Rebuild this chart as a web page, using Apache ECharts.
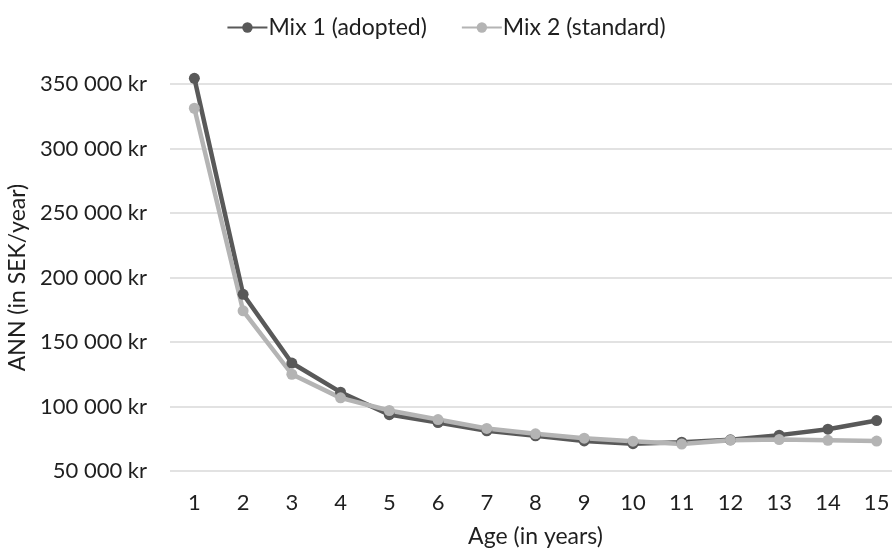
<!DOCTYPE html>
<html><head><meta charset="utf-8">
<script src="https://cdn.jsdelivr.net/npm/echarts@6/dist/echarts.min.js"></script>
<style>html,body{margin:0;padding:0;background:#fff}#c{width:892px;height:549px}</style>
</head><body><div id="c"></div>
<script>
const categories = ['1','2','3','4','5','6','7','8','9','10','11','12','13','14','15'];
const mix1 = [354400, 187000, 133700, 111100, 93700, 87600, 81200, 77300, 73300, 71200, 72300, 74200, 77800, 82400, 89100];
const mix2 = [331200, 174200, 125000, 106700, 96900, 89900, 83000, 78800, 75400, 73100, 70900, 73900, 74400, 73800, 73200];
const yTicks = [50000, 100000, 150000, 200000, 250000, 300000, 350000];
const seriesNames = ['Mix 1 (adopted)', 'Mix 2 (standard)'];
const FONT = 'Lato';
const chart = echarts.init(document.getElementById('c'));
function fmt(v){ return String(v).replace(/\B(?=(\d{3})+(?!\d))/g, ' ') + ' kr'; }
chart.setOption({
  animation: false,
  textStyle: {fontFamily: FONT},
  legend: {
    top: 11, left: 'center', itemWidth: 40, itemHeight: 13, itemGap: 34,
    textStyle: {fontFamily: FONT, fontSize: 23, color: '#1f1f1f', padding: [0,0,0,-4]},
    data: seriesNames
  },
  grid: {left: 170, top: 84, width: 731, bottom: 78, containLabel: false, outerBoundsMode: 'none'},
  xAxis: {
    type: 'category', data: categories, boundaryGap: true,
    name: 'Age (in years)', nameLocation: 'middle', nameGap: 54,
    nameTextStyle: {fontFamily: FONT, fontSize: 23, color: '#1f1f1f'},
    axisLine: {show: false}, axisTick: {show: false},
    axisLabel: {fontFamily: FONT, fontSize: 22, color: '#1f1f1f', margin: 21}
  },
  yAxis: {
    type: 'value', min: yTicks[0], max: yTicks[yTicks.length-1], interval: 50000,
    name: 'ANN (in SEK/year)', nameLocation: 'middle', nameGap: 139,
    nameTextStyle: {fontFamily: FONT, fontSize: 23, color: '#1f1f1f'},
    axisLine: {show: false}, axisTick: {show: false},
    splitLine: {lineStyle: {color: '#d9d9d9', width: 1.5}},
    axisLabel: {fontFamily: FONT, fontSize: 22, color: '#1f1f1f', margin: 23, formatter: fmt}
  },
  series: [
    {name: seriesNames[0], type: 'line', data: mix1, clip: false, symbol: 'circle', symbolSize: 11,
     itemStyle: {color: '#595959'}, lineStyle: {color: '#595959', width: 4.5}},
    {name: seriesNames[1], type: 'line', data: mix2, clip: false, symbol: 'circle', symbolSize: 11,
     itemStyle: {color: '#b4b4b4'}, lineStyle: {color: '#b4b4b4', width: 4.5}}
  ]
});
</script></body></html>
